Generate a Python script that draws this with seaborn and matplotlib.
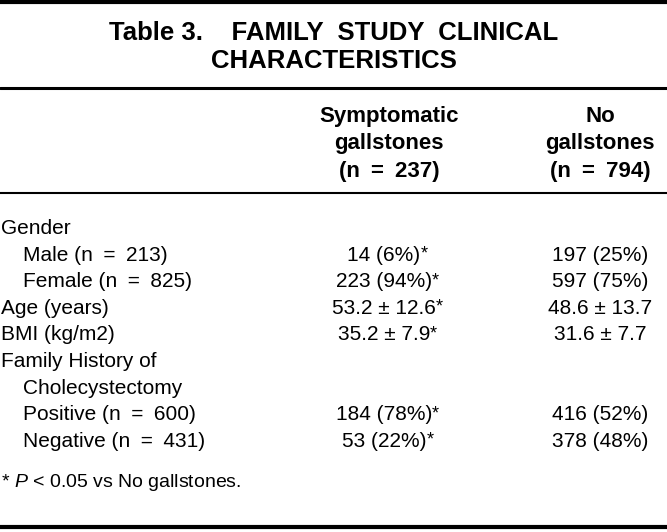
import matplotlib
matplotlib.use("Agg")
import matplotlib.pyplot as plt
import seaborn as sns

# table content
title_lines = ["Table 3.    FAMILY  STUDY  CLINICAL", "CHARACTERISTICS"]
col_headers = [
    ["Symptomatic", "gallstones", "(n\u2002=\u2002237)"],
    ["No", "gallstones", "(n\u2002=\u2002794)"],
]
row_labels = [
    "Gender", "Male (n\u2002=\u2002213)", "Female (n\u2002=\u2002825)", "Age (years)", "BMI (kg/m2)",
    "Family History of", "Cholecystectomy", "Positive (n\u2002=\u2002600)", "Negative (n\u2002=\u2002431)",
]
row_indent = [0, 1, 1, 0, 0, 0, 1, 1, 1]
symptomatic = ["", "14 (6%)", "223 (94%)", "53.2 ± 12.6", "35.2 ± 7.9", "", "", "184 (78%)", "53 (22%)"]
no_gallstones = ["", "197 (25%)", "597 (75%)", "48.6 ± 13.7", "31.6 ± 7.7", "", "", "416 (52%)", "378 (48%)"]
significant = [False, True, True, True, True, False, False, True, True]
footnote = r"* $P$ < 0.05 vs No gallstones."

sns.set_theme(style="white")
plt.rcParams["font.family"] = ["Liberation Sans", "DejaVu Sans"]
plt.rcParams["text.color"] = "black"
plt.rcParams["mathtext.fontset"] = "custom"
plt.rcParams["mathtext.it"] = "Liberation Sans:italic"
plt.rcParams["mathtext.rm"] = "Liberation Sans"

fig = plt.figure(figsize=(6.67, 5.32), dpi=100)
ax = fig.add_axes([0, 0, 1, 1])
ax.set_xlim(0, 667)
ax.set_ylim(532, 0)
ax.axis("off")

# rules
for y, lw in [(2, 3.0), (88, 2.2), (193, 1.5), (527, 3.0)]:
    ax.axhline(y, color="black", lw=lw)

# title
for i, line in enumerate(title_lines):
    ax.text(334, 40 + i * 28, line, ha="center", va="baseline",
            fontsize=18.5, fontweight="bold")

# column headers
col_hdr_x = [389, 600]
for cx, lines in zip(col_hdr_x, col_headers):
    for i, line in enumerate(lines):
        ax.text(cx, 122 + i * 27.5, line, ha="center", va="baseline",
                fontsize=16, fontweight="bold")

# body
body_fs = 15
col_val_x = [384, 600]
for i, label in enumerate(row_labels):
    y = 234 + i * 26.6
    ax.text(1 + row_indent[i] * 22, y, label, ha="left", va="baseline", fontsize=body_fs)
    for cx, vals in zip(col_val_x, [symptomatic, no_gallstones]):
        if not vals[i]:
            continue
        t = ax.text(cx, y, vals[i], ha="center", va="baseline", fontsize=body_fs)
        if cx == col_val_x[0] and significant[i]:
            ax.annotate("*", xy=(1, 1), xycoords=t, ha="left", va="top",
                        fontsize=body_fs - 2)

ax.text(1, 487, footnote, ha="left", va="baseline", fontsize=14)

fig.savefig("out.png", dpi=100, facecolor="white")
